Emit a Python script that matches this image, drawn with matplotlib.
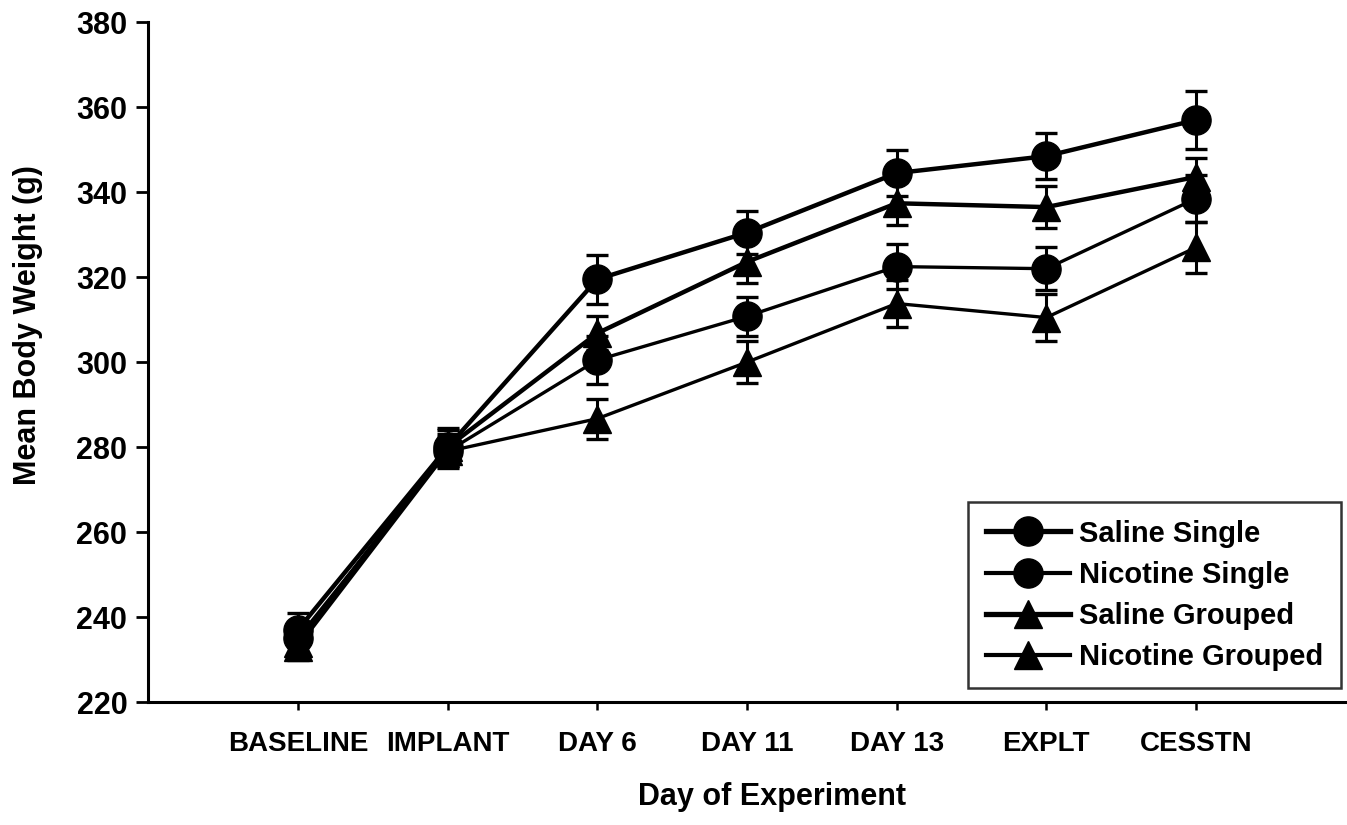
import matplotlib.pyplot as plt
from matplotlib.lines import Line2D

plt.rcParams['font.family'] = ['Liberation Sans', 'DejaVu Sans']
plt.rcParams['font.weight'] = 'bold'
plt.rcParams['axes.labelweight'] = 'bold'

days = ['BASELINE', 'IMPLANT', 'DAY 6', 'DAY 11', 'DAY 13', 'EXPLT', 'CESSTN']

saline_single = [237, 280, 319.5, 330.5, 344.5, 348.5, 357]
saline_single_err = [4, 4.5, 5.7, 5, 5.5, 5.5, 6.8]

nicotine_single = [235, 279, 300.5, 310.8, 322.5, 322, 338.5]
nicotine_single_err = [3.5, 4, 5.6, 4.6, 5.3, 5, 5.5]

saline_grouped = [234, 280, 306.8, 323.6, 337.4, 336.5, 343.6]
saline_grouped_err = [3.5, 4, 4, 5, 5, 5, 4.5]

nicotine_grouped = [233, 279, 286.7, 300, 313.8, 310.5, 327]
nicotine_grouped_err = [3, 3.5, 4.7, 5, 5.5, 5.5, 6]

x = list(range(len(days)))

fig = plt.figure(figsize=(13.47, 8.25), dpi=100)
ax = fig.add_axes([0.110, 0.149, 0.889, 0.824])

series = [
    (saline_single, saline_single_err, 'o', 3.2, 'Saline Single'),
    (nicotine_single, nicotine_single_err, 'o', 2.4, 'Nicotine Single'),
    (saline_grouped, saline_grouped_err, '^', 3.2, 'Saline Grouped'),
    (nicotine_grouped, nicotine_grouped_err, '^', 2.4, 'Nicotine Grouped'),
]

handles = []
for vals, errs, mk, lw, name in series:
    ms = 21 if mk == 'o' else 20
    ax.errorbar(x, vals, yerr=errs, fmt='-', marker=mk, color='black',
                markersize=ms, linewidth=lw,
                elinewidth=2.2, capsize=8, capthick=2.4)
    handles.append(Line2D([], [], color='black', marker=mk, markersize=ms,
                          linewidth=lw + 0.6, label=name))

ax.set_xlim(-1, 7)
ax.set_ylim(220, 380)
ax.set_yticks(range(220, 381, 20))
ax.set_xticks(x)
ax.set_xticklabels(days)

ax.spines['top'].set_visible(False)
ax.spines['right'].set_visible(False)
ax.spines['left'].set_linewidth(2.2)
ax.spines['bottom'].set_linewidth(2.2)
ax.tick_params(axis='y', direction='out', length=9, width=2, labelsize=22, pad=6)
ax.tick_params(axis='x', direction='out', length=6, width=1.8, labelsize=20, pad=15)

ax.set_xlabel('Day of Experiment', fontsize=22)
ax.set_ylabel('Mean Body Weight (g)', fontsize=22)
ax.xaxis.set_label_coords(0.521, -0.117)
ax.yaxis.set_label_coords(-0.088, 0.554)

leg = ax.legend(handles=handles, loc='lower right', bbox_to_anchor=(0.996, 0.02),
                fontsize=21, handlelength=2.9, frameon=True, fancybox=False,
                edgecolor='black', borderpad=0.6, labelspacing=0.45,
                handletextpad=0.3, borderaxespad=0)
leg.get_frame().set_linewidth(1.8)

fig.savefig('out.png', dpi=100)
